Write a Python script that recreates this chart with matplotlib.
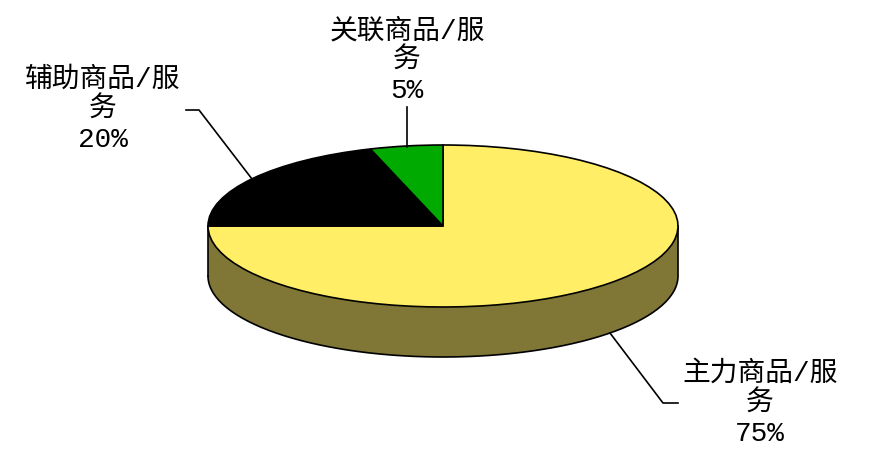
import numpy as np
import matplotlib
matplotlib.use('Agg')
from matplotlib import pyplot as plt

plt.rcParams['font.family'] = ['Liberation Mono', 'Noto Sans CJK SC', 'DejaVu Sans']

labels = ['主力商品/服\n务\n75%', '辅助商品/服\n务\n20%', '关联商品/服\n务\n5%']
values = [75, 20, 5]
top_colors = ['#FFEE66', '#000000', '#00AA00']
side_colors = ['#807636', '#000000', '#005500']

W, H = 892, 457
CX, CY = 443, 226      # centre of the top ellipse, pixels
RX, RY = 235, 81
DEPTH = 50

fig = plt.figure(figsize=(W / 100, H / 100), dpi=100)
# axes sized so one data unit is RX by RY pixels and (0, 0) is the centre
ax = fig.add_axes([0, 0, 1, 1])
d = DEPTH / RY

# side wall, only the front half of each slice shows
start = 90.0
for v, c in zip(values, side_colors):
    stop = start - v * 3.6
    a = np.radians(np.linspace(start, stop, 200))
    a = a[np.sin(a) <= 0]
    if len(a):
        x = np.cos(a)
        y = np.sin(a)
        ax.fill(np.r_[x, x[::-1]], np.r_[y, y[::-1] - d], fc=c, ec='none', zorder=1)
        ax.plot(x, y - d, color='black', lw=1.2, zorder=2)
    start = stop
ax.plot([-1, -1], [0, -d], color='black', lw=1.2, zorder=2)
ax.plot([1, 1], [0, -d], color='black', lw=1.2, zorder=2)

wedges, _ = ax.pie(values, colors=top_colors, startangle=90, counterclock=False,
                   radius=1, frame=True,
                   wedgeprops={'edgecolor': 'black', 'linewidth': 1.2, 'zorder': 3})
ax.set_aspect('auto')
ax.set_xlim(-CX / RX, (W - CX) / RX)
ax.set_ylim(-(H - CY) / RY, CY / RY)
ax.axis('off')


# labels and leader lines, in pixels from the top left
def to_data(xp, yp):
    return (xp - CX) / RX, (CY - yp) / RY


label_pos = [(760, 404), (103, 110), (407, 61)]
leaders = [[(610, 333), (663, 403), (678, 403)],
           [(252, 179), (199, 110), (186, 110)],
           [(407, 147), (407, 107)]]
for lab, (xp, yp), pts in zip(labels, label_pos, leaders):
    # one text per line, the multiline spacing comes out uneven with mixed fonts
    for i, part in enumerate(lab.split('\n')):
        tx, ty = to_data(xp, yp + (i - 1) * 30)
        ax.text(tx, ty, part, ha='center', va='center', fontsize=20,
                color='black', zorder=5)
    line = np.array([to_data(*p) for p in pts])
    ax.plot(line[:, 0], line[:, 1], color='black', lw=1.2, zorder=5)

fig.savefig('out.png', dpi=100, facecolor='white')
